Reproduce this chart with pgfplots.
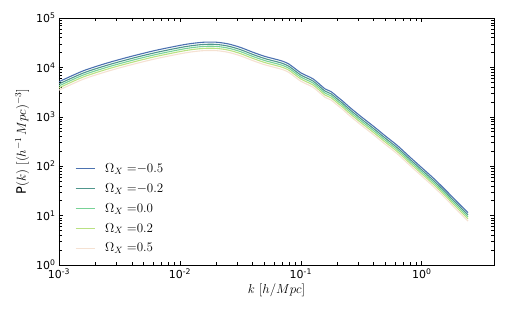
\RequirePackage{fix-cm}
\documentclass[border=0pt]{standalone}
\usepackage{fontspec}
\setmainfont{DejaVu Sans}
\usepackage{pgfplots}
\usepackage{pgfplotstable}
\pgfplotsset{compat=1.18}
\definecolor{c1}{RGB}{76,114,176}
\definecolor{c2}{RGB}{80,150,140}
\definecolor{c3}{RGB}{120,210,150}
\definecolor{c4}{RGB}{185,225,130}
\definecolor{c5}{RGB}{245,225,210}
\pgfplotstableread{
k P1 P2 P3 P4 P5
0.001 5129 4626 4216 3847 3467
0.001585 8511 7677 6996 6383 5753
0.002512 12300 11095 10111 9225 8315
0.003981 16790 15145 13801 12593 11350
0.00631 22130 19961 18191 16598 14960
0.01 27860 25130 22901 20895 18833
0.01259 30550 27556 25112 22913 20652
0.01585 32360 29189 26600 24270 21875
0.01995 32360 29189 26600 24270 21875
0.02512 29850 26925 24537 22388 20179
0.03162 25410 22920 20887 19058 17177
0.03981 20420 18419 16785 15315 13804
0.05012 16790 15145 13801 12593 11350
0.0631 14450 13034 11878 10838 9768
0.07079 13340 12033 10965 10005 9018
0.07943 11750 10599 9659 8813 7943
0.08913 9550 8614 7850 7163 6456
0.1 7762 7001 6380 5822 5247
0.1122 6761 6098 5558 5071 4570
0.1259 5888 5311 4840 4416 3980
0.1413 4677 4219 3845 3508 3162
0.1585 3673 3313 3019 2755 2483
0.1778 3236 2919 2660 2427 2188
0.1995 2570 2318 2113 1928 1737
0.2239 2042 1842 1679 1532 1380
0.2512 1585 1430 1303 1189 1071
0.2818 1259 1136 1035 944.3 851.1
0.3162 1000 902 822 750 676
0.3981 645.7 582.4 530.8 484.3 436.5
0.5012 407.4 367.5 334.9 305.6 275.4
0.631 260.0 234.5 213.7 195.0 175.8
0.7943 154.9 139.7 127.3 116.2 104.7
1.0 93.33 84.18 76.72 70.00 63.09
1.259 56.23 50.72 46.22 42.17 38.01
1.585 32.36 29.19 26.60 24.27 21.88
1.995 18.20 16.42 14.96 13.65 12.30
2.415 11.48 10.35 9.44 8.61 7.76
}\pk
\begin{document}
\begin{tikzpicture}
\path[use as bounding box] (-59pt,-51pt) rectangle (447pt,265pt);
\begin{axis}[
  at={(0pt,0pt)}, anchor=south west,
  scale only axis, width=435pt, height=247pt,
  xmode=log, ymode=log,
  xmin=1e-3, xmax=3.96, ymin=1, ymax=1e5,
  axis line style={line width=0.9pt},
  tick style={black, line width=0.5pt},
  xtick={1e-3,1e-2,1e-1,1},
  xticklabels={10\textsuperscript{-3},10\textsuperscript{-2},10\textsuperscript{-1},10\textsuperscript{0}},
  ytick={1,10,100,1000,10000,100000},
  yticklabels={10\textsuperscript{0},10\textsuperscript{1},10\textsuperscript{2},10\textsuperscript{3},10\textsuperscript{4},10\textsuperscript{5}},
  ticklabel style={font=\fontsize{11}{13}\selectfont},
  xlabel={$k\ [h/Mpc]$},
  ylabel={P$(k)$ $[(h^{-1}\,Mpc)^{-3}]$},
  xlabel style={font=\fontsize{13}{15}\selectfont, yshift=2pt},
  ylabel style={font=\fontsize{13}{15}\selectfont},
  legend style={draw=none, fill=none, at={(0.03,0.03)}, anchor=south west,
    font=\fontsize{13}{15}\selectfont, row sep=5.5pt,
    /tikz/every odd column/.append style={column sep=8pt}},
  legend cell align=left,
  legend image code/.code={\draw[#1, line width=0.9pt] (0pt,0pt) -- (19pt,0pt);},
  every axis plot/.append style={line width=1.1pt, smooth},
]
\addplot[c1] table[x=k,y=P1] {\pk};
\addlegendentry{$\Omega_X\;{=}{-0.5}$}
\addplot[c2] table[x=k,y=P2] {\pk};
\addlegendentry{$\Omega_X\;{=}{-0.2}$}
\addplot[c3] table[x=k,y=P3] {\pk};
\addlegendentry{$\Omega_X\;{=}0.0$}
\addplot[c4] table[x=k,y=P4] {\pk};
\addlegendentry{$\Omega_X\;{=}0.2$}
\addplot[c5] table[x=k,y=P5] {\pk};
\addlegendentry{$\Omega_X\;{=}0.5$}
\end{axis}
\end{tikzpicture}
\end{document}
